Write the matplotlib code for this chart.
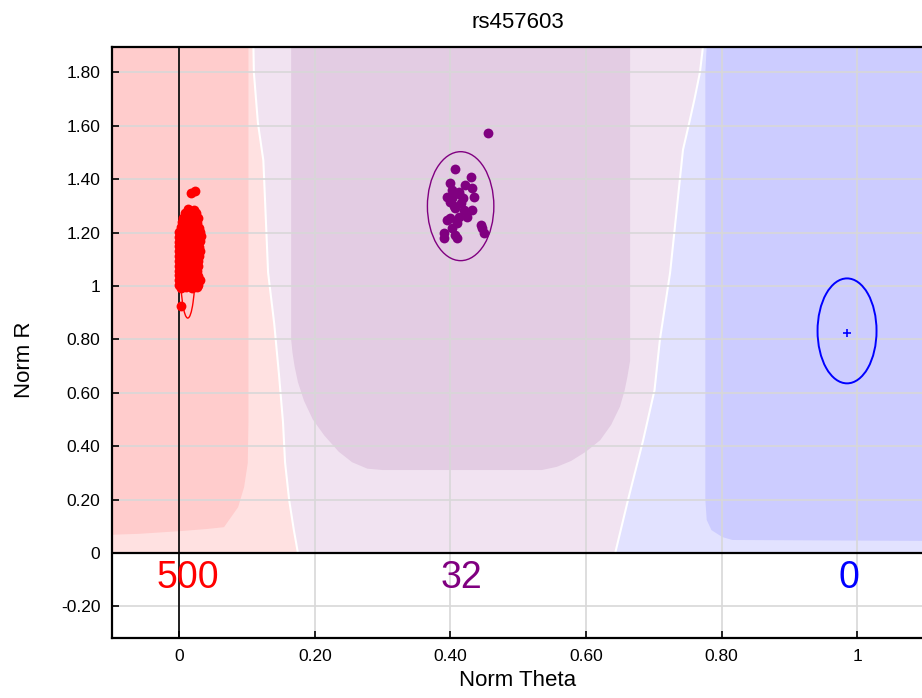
import numpy as np
import matplotlib
matplotlib.use("Agg")
import matplotlib.pyplot as plt
from matplotlib.patches import Ellipse

plt.rcParams['font.family'] = ['Liberation Sans', 'DejaVu Sans']

# --- values ---
snp_name = "rs457603"
x_ticks = [0, 0.2, 0.4, 0.6, 0.8, 1.0]
x_tick_labels = ["0", "0.20", "0.40", "0.60", "0.80", "1"]
y_ticks = [-0.2, 0, 0.2, 0.4, 0.6, 0.8, 1.0, 1.2, 1.4, 1.6, 1.8]
y_tick_labels = ["-0.20", "0", "0.20", "0.40", "0.60", "0.80", "1",
                 "1.20", "1.40", "1.60", "1.80"]

# genotype clusters AA / AB / BB
cluster_colors = ["#FF0000", "#800080", "#0000FF"]
cluster_counts = [500, 32, 0]
center_x = [0.0125, 0.415, 0.985]
center_y = [1.08, 1.299, 0.832]
ellipse_w = [0.022, 0.098, 0.087]
ellipse_h = [0.40, 0.408, 0.393]
count_x = [0.012, 0.416, 0.988]
count_y = -0.094

# AA samples (dense blob)
red_x = [0.013, 0.021,
         0.009, 0.017, 0.024,
         0.006, 0.014, 0.022, 0.027,
         0.004, 0.011, 0.019, 0.026,
         0.002, 0.009, 0.016, 0.024, 0.029,
         0.000, 0.007, 0.015, 0.022, 0.030,
         -0.001, 0.005, 0.013, 0.021, 0.028, 0.032,
         -0.001, 0.006, 0.012, 0.020, 0.027, 0.031,
         0.000, 0.007, 0.014, 0.022, 0.029,
         -0.001, 0.004, 0.011, 0.019, 0.026, 0.031,
         0.000, 0.006, 0.015, 0.023, 0.029,
         -0.001, 0.005, 0.012, 0.020, 0.027,
         0.000, 0.006, 0.014, 0.022, 0.028,
         -0.001, 0.004, 0.012, 0.019, 0.026,
         0.000, 0.006, 0.014, 0.021, 0.027,
         -0.001, 0.004, 0.011, 0.018, 0.025, 0.030,
         0.000, 0.007, 0.015, 0.022, 0.028,
         0.002, 0.010, 0.019, 0.026,
         0.018, 0.023, 0.003]
red_y = [1.288, 1.286,
         1.272, 1.270, 1.273,
         1.255, 1.253, 1.257, 1.254,
         1.238, 1.236, 1.240, 1.237,
         1.220, 1.222, 1.218, 1.221, 1.219,
         1.202, 1.204, 1.200, 1.203, 1.201,
         1.184, 1.186, 1.182, 1.185, 1.183, 1.186,
         1.166, 1.168, 1.164, 1.167, 1.165, 1.168,
         1.148, 1.150, 1.146, 1.149, 1.147,
         1.130, 1.132, 1.128, 1.131, 1.129, 1.132,
         1.112, 1.114, 1.110, 1.113, 1.111,
         1.094, 1.096, 1.092, 1.095, 1.093,
         1.076, 1.078, 1.074, 1.077, 1.075,
         1.058, 1.060, 1.056, 1.059, 1.057,
         1.040, 1.042, 1.038, 1.041, 1.039,
         1.022, 1.024, 1.020, 1.023, 1.021, 1.024,
         1.004, 1.006, 1.002, 1.005, 1.003,
         0.994, 0.996, 0.992, 0.995,
         1.348, 1.356, 0.925]

# AB samples
purple_x = [0.455, 0.407, 0.431, 0.399, 0.422, 0.4025, 0.432, 0.412,
            0.395, 0.4025, 0.434, 0.415, 0.399, 0.407, 0.4196, 0.432,
            0.399, 0.412, 0.4245, 0.395, 0.410, 0.4025, 0.390, 0.407,
            0.390, 0.409, 0.4466, 0.449, 0.445, 0.413, 0.418, 0.405]
purple_y = [1.572, 1.438, 1.407, 1.385, 1.378, 1.360, 1.366, 1.353,
            1.335, 1.328, 1.332, 1.310, 1.316, 1.291, 1.285, 1.285,
            1.253, 1.260, 1.260, 1.247, 1.235, 1.216, 1.197, 1.191,
            1.179, 1.179, 1.216, 1.200, 1.228, 1.345, 1.330, 1.300]

# call-region boundaries (white lines)
left_bound_x = [0.109, 0.110, 0.116, 0.124, 0.131, 0.140, 0.147, 0.153,
                0.156, 0.162, 0.169, 0.175]
left_bound_y = [1.95, 1.80, 1.61, 1.47, 1.05, 0.86, 0.67, 0.49,
                0.34, 0.20, 0.086, 0.0]
right_bound_x = [0.775, 0.768, 0.760, 0.753, 0.743, 0.724, 0.709, 0.701,
                 0.684, 0.662, 0.643]
right_bound_y = [1.95, 1.80, 1.70, 1.62, 1.51, 1.05, 0.80, 0.61,
                 0.42, 0.20, 0.0]

# dense cores of the call regions
red_core_x = [-0.12, 0.102, 0.102, 0.101, 0.0956, 0.0868, 0.0765, 0.066,
              0.04, 0.0, -0.06, -0.12]
red_core_y = [1.95, 1.95, 0.49, 0.337, 0.247, 0.172, 0.135, 0.097,
              0.090, 0.082, 0.072, 0.067]
purple_core_x = [0.165, 0.165, 0.167, 0.170, 0.175, 0.184, 0.197, 0.214,
                 0.235, 0.255, 0.2775, 0.30, 0.535, 0.557, 0.578, 0.600,
                 0.621, 0.637, 0.650, 0.657, 0.661, 0.665, 0.665]
purple_core_y = [1.95, 0.80, 0.75, 0.70, 0.64, 0.57, 0.50, 0.44,
                 0.38, 0.34, 0.316, 0.311, 0.311, 0.323, 0.345, 0.38,
                 0.423, 0.48, 0.548, 0.61, 0.66, 0.72, 1.95]
blue_core_x = [0.779, 0.776, 0.776, 0.778, 0.785, 0.801, 0.816, 1.15, 1.15]
blue_core_y = [1.95, 1.80, 0.20, 0.124, 0.086, 0.060, 0.049, 0.045, 1.95]

x_min, x_max = -0.1, 1.1
y_min, y_max = -0.318, 1.895

fig = plt.figure(figsize=(9.22, 6.98), dpi=100)
ax = fig.add_axes([111.5 / 922, 60 / 698, 813.5 / 922, 591 / 698])

# light zones
ax.fill([x_min - 0.05] + left_bound_x + [x_min - 0.05],
        [1.95] + left_bound_y + [0.0], color="#FFE1E1", lw=0, zorder=0.1)
ax.fill(left_bound_x + right_bound_x[::-1],
        left_bound_y + right_bound_y[::-1], color="#F1E3F1", lw=0, zorder=0.1)
ax.fill(right_bound_x + [x_max + 0.05, x_max + 0.05],
        right_bound_y + [0.0, 1.95], color="#E2E2FF", lw=0, zorder=0.1)
# dense zones
ax.fill(red_core_x, red_core_y, color="#FFCCCC", lw=0, zorder=0.2)
ax.fill(purple_core_x, purple_core_y, color="#E3CCE3", lw=0, zorder=0.2)
ax.fill(blue_core_x, blue_core_y, color="#CCCCFF", lw=0, zorder=0.2)
ax.plot(left_bound_x, left_bound_y, color="white", lw=1.5, zorder=0.3)
ax.plot(right_bound_x, right_bound_y, color="white", lw=1.5, zorder=0.3)

# axis lines through the origin
ax.axvline(0, color="black", lw=1.2, zorder=1)
ax.axhline(0, color="black", lw=1.6, zorder=1)

# cluster ellipses
ell_lw = [1.0, 1.0, 1.4]
for cx, cy, w, h, c, lw in zip(center_x, center_y, ellipse_w, ellipse_h,
                               cluster_colors, ell_lw):
    ax.add_patch(Ellipse((cx, cy), w, h, fill=False, ec=c, lw=lw, zorder=2))
ax.plot(center_x[2], center_y[2] - 0.007, marker="+", color=cluster_colors[2],
        ms=6, mew=1.2, zorder=3)

ax.scatter(red_x, red_y, s=50, color=cluster_colors[0], lw=0, zorder=3)
ax.scatter(purple_x, purple_y, s=50, color=cluster_colors[1], lw=0, zorder=3)

for tx, n, c in zip(count_x, cluster_counts, cluster_colors):
    ax.text(tx, count_y, str(n), color=c, fontsize=27, ha="center", va="center")

ax.set_xlim(x_min, x_max)
ax.set_ylim(y_min, y_max)
ax.set_xticks(x_ticks)
ax.set_xticklabels(x_tick_labels)
ax.set_yticks(y_ticks)
ax.set_yticklabels(y_tick_labels)
ax.tick_params(direction="in", length=5, width=1.2, labelsize=12.5, pad=8)
ax.set_axisbelow(True)
ax.grid(True, color="#D8D8D8", lw=1.2)
for side in ["top", "bottom", "left"]:
    ax.spines[side].set_linewidth(1.6)
ax.spines["right"].set_visible(False)

fig.text(518 / 922, 1 - 22 / 698, snp_name, ha="center", va="center", fontsize=16)
fig.text(518 / 922, 1 - 680 / 698, "Norm Theta", ha="center", va="center", fontsize=16)
fig.text(25 / 922, 1 - 360 / 698, "Norm R", ha="center", va="center",
         fontsize=16, rotation=90)

fig.savefig("out.png", dpi=100)
